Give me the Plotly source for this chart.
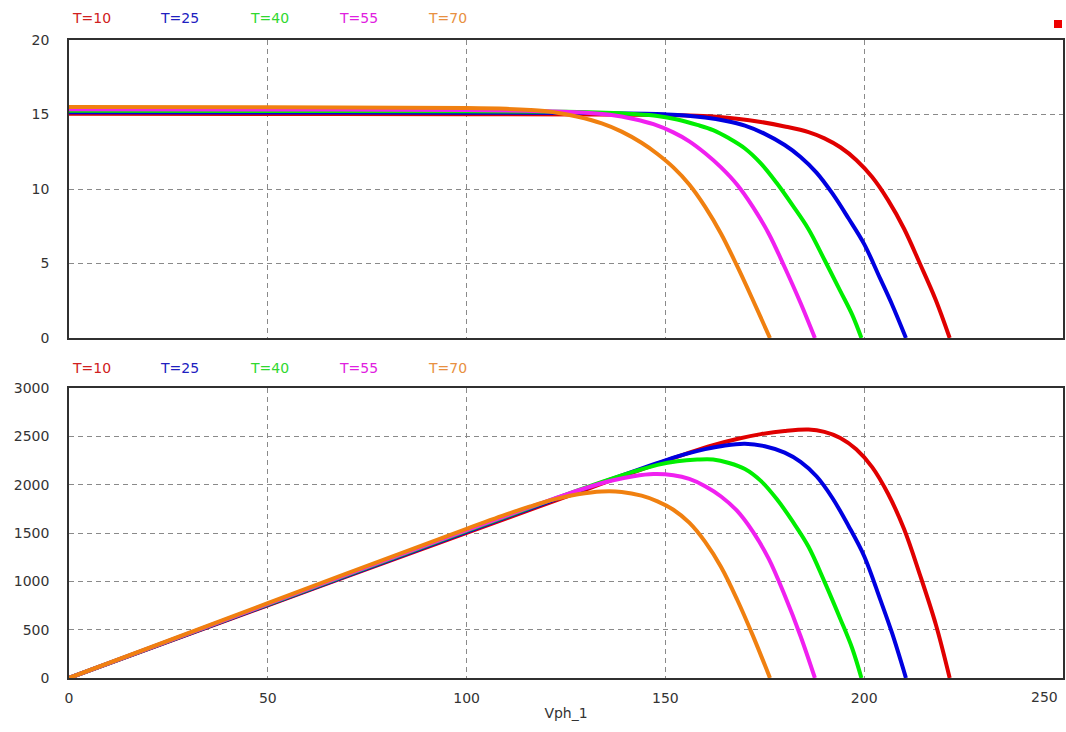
import numpy as np
import plotly.graph_objects as go
from plotly.subplots import make_subplots

# ---- data (V in volts, I in amps) ----
temps = ["T=10", "T=25", "T=40", "T=55", "T=70"]
colors = ["#e00000", "#0000e0", "#00ee00", "#f020f0", "#f08010"]
label_colors = ["#d02020", "#2020c0", "#30d830", "#e020e0", "#e89040"]

V_10 = [0, 50, 100, 130, 150, 156, 162, 168, 174, 180, 186, 190, 194, 198, 202, 206, 210, 214, 218, 221.5]
I_10 = [15.05, 15.04, 15.02, 15.0, 14.97, 14.94, 14.87, 14.72, 14.5, 14.2, 13.82, 13.4, 12.8, 11.95, 10.8, 9.25, 7.35, 5.0, 2.55, 0]

V_25 = [0, 50, 100, 130, 145, 150, 155, 160, 165, 170, 175, 180, 184, 188, 192, 196, 200, 204, 207, 210.5]
I_25 = [15.15, 15.14, 15.12, 15.1, 15.05, 15.01, 14.94, 14.8, 14.58, 14.25, 13.7, 12.95, 12.15, 11.1, 9.7, 8.05, 6.3, 4.0, 2.25, 0]

V_40 = [0, 50, 100, 125, 135, 142, 148, 153, 158, 162, 166, 170, 174, 178, 182, 186, 190, 194, 197, 199.3]
I_40 = [15.25, 15.24, 15.22, 15.18, 15.12, 15.03, 14.9, 14.66, 14.3, 13.95, 13.4, 12.72, 11.72, 10.4, 8.9, 7.3, 5.25, 3.15, 1.55, 0]

V_55 = [0, 50, 100, 115, 122, 130, 136, 142, 147, 152, 156, 160, 164, 168, 172, 176, 180, 184, 187.6]
I_55 = [15.35, 15.34, 15.3, 15.25, 15.2, 15.12, 14.98, 14.7, 14.35, 13.8, 13.2, 12.4, 11.45, 10.3, 8.8, 7.0, 4.75, 2.35, 0]

V_70 = [0, 50, 100, 110, 116, 122, 128, 134, 139, 144, 148, 152, 156, 160, 164, 168, 172, 176.3]
I_70 = [15.5, 15.48, 15.43, 15.38, 15.3, 15.15, 14.85, 14.4, 13.85, 13.1, 12.35, 11.45, 10.3, 8.8, 7.0, 4.85, 2.55, 0]

V_sets = [V_10, V_25, V_40, V_55, V_70]
I_sets = [I_10, I_25, I_40, I_55, I_70]

x_ticks = [0, 50, 100, 150, 200, 250]
y1_ticks = [0, 5, 10, 15, 20]
y2_ticks = [0, 500, 1000, 1500, 2000, 2500, 3000]
x_title = "Vph_1"

# ---- layout geometry (pixels) ----
W, H = 1066, 732
ml, mr, mt, mb = 69, 3, 40, 54
pw = W - ml - mr
ph = H - mt - mb
top_dom = [(678 - 338) / ph, 1.0]
bot_dom = [0.0, (678 - 388) / ph]

fig = make_subplots(rows=2, cols=1, shared_xaxes=False, vertical_spacing=0.05)

for V, I, c in zip(V_sets, I_sets, colors):
    V = np.array(V, dtype=float)
    I = np.array(I, dtype=float)
    P = V * I
    fig.add_trace(go.Scatter(x=V, y=I, mode="lines", line=dict(color=c, width=4, shape="spline", smoothing=1.0),
                             showlegend=False, hoverinfo="skip"), row=1, col=1)
    fig.add_trace(go.Scatter(x=V, y=P, mode="lines", line=dict(color=c, width=4, shape="spline", smoothing=1.0),
                             showlegend=False, hoverinfo="skip"), row=2, col=1)

FAM = "DejaVu Sans, Verdana, sans-serif"
font = dict(family=FAM, size=14, color="#333333")
axis_common = dict(showline=True, mirror=True, linecolor="#303030", linewidth=1.5,
                   showgrid=True, gridcolor="#8a8a8a", gridwidth=1, griddash="5px,4px",
                   zeroline=False, ticks="", tickfont=font, automargin=False)

fig.update_xaxes(range=[0, 250], tickvals=x_ticks, **axis_common)
fig.update_xaxes(showticklabels=False, domain=[0, 1], row=1, col=1)
# last tick label (at the right edge) is drawn as an annotation, shifted inside like the reference
fig.update_xaxes(ticktext=[str(v) for v in x_ticks[:-1]] + [""], ticklabelstandoff=6, domain=[0, 1],
                 title=dict(text=x_title, font=font, standoff=4), row=2, col=1)
fig.update_yaxes(range=[0, 20], tickvals=y1_ticks, domain=top_dom, ticklabelstandoff=15, **axis_common, row=1, col=1)
fig.update_yaxes(range=[0, 3000], tickvals=y2_ticks, domain=bot_dom, ticklabelstandoff=15, **axis_common, row=2, col=1)

annotations = [dict(text=str(x_ticks[-1]), xref="x2", yref="paper", x=x_ticks[-1], y=0,
                    xanchor="right", yanchor="top", xshift=-3, yshift=-9, showarrow=False, font=font)]

# legend-like labels above each plot
label_x = [70, 158, 248, 337, 426]
for ypx in (18, 368):
    for t, lx, lc in zip(temps, label_x, label_colors):
        annotations.append(dict(text=t, xref="paper", yref="paper",
                                x=(lx - ml) / pw, y=(H - mb - ypx) / ph,
                                xanchor="left", yanchor="middle", showarrow=False,
                                font=dict(family=FAM, size=14, color=lc)))
fig.update_layout(annotations=annotations)

# small red marker in top-right corner
fig.add_shape(type="rect", xref="paper", yref="paper",
              x0=(1054 - ml) / pw, x1=(1062 - ml) / pw,
              y0=(H - mb - 28) / ph, y1=(H - mb - 20) / ph,
              fillcolor="#ee0000", line=dict(width=0))

fig.update_layout(width=W, height=H, margin=dict(l=ml, r=mr, t=mt, b=mb),
                  paper_bgcolor="white", plot_bgcolor="white", font=font)

fig.write_html("out.html", config={"displayModeBar": False},
               post_script="document.body.style.margin='0';document.body.style.overflow='hidden';")
